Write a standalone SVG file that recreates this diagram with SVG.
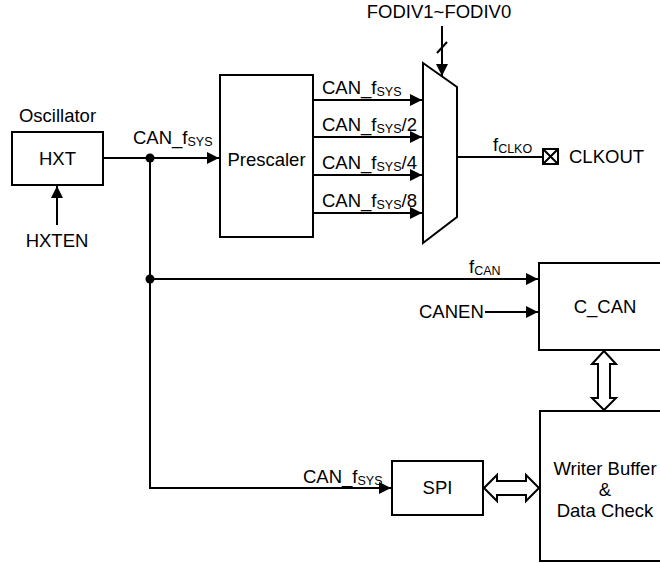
<svg xmlns="http://www.w3.org/2000/svg" width="660" height="563" viewBox="0 0 660 563">
<style>
text{font-family:"Liberation Sans",Arial,sans-serif;font-size:18.5px;fill:#000}
.sub{font-size:12.5px}
.box{fill:#fff;stroke:#000;stroke-width:2}
.ln{fill:none;stroke:#000;stroke-width:2}
.dbl{fill:#fff;stroke:#000;stroke-width:2;stroke-linejoin:miter}
</style>
<defs>
<marker id="ah" markerUnits="userSpaceOnUse" markerWidth="13" markerHeight="12" refX="12" refY="6" orient="auto">
<path d="M0,0 L12,6 L0,12 Z" fill="#000"/>
</marker>
</defs>
<rect width="660" height="563" fill="#fff"/>

<g id="connectors">
<line class="ln" x1="103" y1="158" x2="219" y2="158" marker-end="url(#ah)"/>
<line class="ln" x1="57" y1="225" x2="57" y2="186" marker-end="url(#ah)"/>
<path class="ln" d="M150,158 V488 H391" marker-end="url(#ah)"/>
<line class="ln" x1="150" y1="279" x2="538" y2="279" marker-end="url(#ah)"/>
<circle cx="150" cy="158" r="4.5" fill="#000"/>
<circle cx="150" cy="279" r="4.5" fill="#000"/>
<line class="ln" x1="313" y1="100" x2="422" y2="100" marker-end="url(#ah)"/>
<line class="ln" x1="313" y1="137" x2="422" y2="137" marker-end="url(#ah)"/>
<line class="ln" x1="313" y1="175" x2="422" y2="175" marker-end="url(#ah)"/>
<line class="ln" x1="313" y1="213" x2="422" y2="213" marker-end="url(#ah)"/>
<line class="ln" x1="442" y1="26" x2="442" y2="76" marker-end="url(#ah)"/>
<line class="ln" x1="437" y1="53" x2="447" y2="42"/>
<line class="ln" x1="457" y1="157" x2="543" y2="157"/>
<line class="ln" x1="485" y1="312" x2="538" y2="312" marker-end="url(#ah)"/>
<path class="dbl" d="M604,351 L616,364 L610,364 L610,398 L616,398 L604,410 L592,398 L598,398 L598,364 L592,364 Z"/>
<path class="dbl" d="M484,488 L497,475 L497,481 L526,481 L526,475 L539,488 L526,501 L526,495 L497,495 L497,501 Z"/>
</g>

<g id="oscillator">
<text x="57.5" y="122" text-anchor="middle">Oscillator</text>
<rect class="box" x="12" y="132" width="91" height="53"/>
<text x="57.5" y="165" text-anchor="middle">HXT</text>
</g>
<g id="hxten"><text x="57" y="247" text-anchor="middle">HXTEN</text></g>
<g id="label-canfsys-top"><text x="133" y="144">CAN_f<tspan class="sub" dy="2">SYS</tspan></text></g>

<g id="prescaler">
<rect class="box" x="220" y="75" width="93" height="162"/>
<text x="266.5" y="166" text-anchor="middle">Prescaler</text>
</g>

<g id="mux-labels">
<text x="322" y="94">CAN_f<tspan class="sub" dy="2">SYS</tspan></text>
<text x="322" y="131">CAN_f<tspan class="sub" dy="2">SYS</tspan><tspan dy="-2">/2</tspan></text>
<text x="322" y="169">CAN_f<tspan class="sub" dy="2">SYS</tspan><tspan dy="-2">/4</tspan></text>
<text x="322" y="207">CAN_f<tspan class="sub" dy="2">SYS</tspan><tspan dy="-2">/8</tspan></text>
</g>

<g id="mux">
<polygon class="box" points="423,63 457,87 457,217 423,243"/>
</g>
<g id="fodiv"><text x="439" y="18" text-anchor="middle">FODIV1~FODIV0</text></g>

<g id="clkout">
<text x="493" y="151">f<tspan class="sub" dy="2">CLKO</tspan></text>
<rect class="box" x="543" y="149" width="15" height="15"/>
<path class="ln" d="M543,149 L558,164 M558,149 L543,164"/>
<text x="569" y="163">CLKOUT</text>
</g>

<g id="fcan-label"><text x="469" y="273">f<tspan class="sub" dy="2">CAN</tspan></text></g>
<g id="canen"><text x="419" y="318">CANEN</text></g>

<g id="c_can">
<rect class="box" x="539" y="263" width="130" height="87"/>
<text x="605" y="313" text-anchor="middle">C_CAN</text>
</g>

<g id="writer-buffer">
<rect class="box" x="540" y="411" width="130" height="150"/>
<text x="605" y="475" text-anchor="middle">Writer Buffer</text>
<text x="605" y="496" text-anchor="middle">&amp;</text>
<text x="605" y="517" text-anchor="middle">Data Check</text>
</g>

<g id="label-canfsys-spi"><text x="303" y="483">CAN_f<tspan class="sub" dy="2">SYS</tspan></text></g>

<g id="spi">
<rect class="box" x="392" y="461" width="91" height="54"/>
<text x="437.5" y="494" text-anchor="middle">SPI</text>
</g>
</svg>
